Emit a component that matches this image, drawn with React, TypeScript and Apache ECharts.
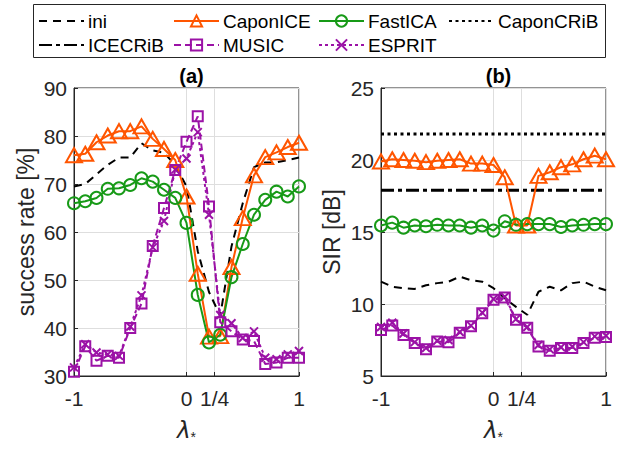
import React, { useEffect, useRef } from "react";
import * as echarts from "echarts";

// ---- data ----
const xValues = [-1, -0.9, -0.8, -0.7, -0.6, -0.5, -0.4, -0.3, -0.2, -0.1, 0, 0.1, 0.2, 0.3, 0.4, 0.5, 0.6, 0.7, 0.8, 0.9, 1];
const xTickValues = [-1, 0, 0.25, 1];
const xTickLabels: Record<string, string> = { "-1": "-1", "0": "0", "0.25": "1/4", "1": "1" };

// (a) success rate [%]
const iniA = [69.5, 70, 72, 74, 75.5, 75.5, 78.5, 77, 76.5, 74, 69.5, 56, 47.5, 42.5, 57, 66, 73.5, 74.5, 74.5, 75, 75.5];
const caponIceA = [76, 76.3, 78.7, 80.1, 81, 81, 82, 79.4, 77.3, 75, 67.4, 51.3, 38.2, 38.3, 52.7, 62.9, 71.8, 75.6, 76.6, 77.7, 78.6];
const fastIcaA = [66, 66.4, 67.1, 69, 69.1, 69.8, 71.2, 70.5, 68.8, 67.1, 61.9, 46.9, 37, 38.6, 50.6, 57.5, 63.6, 66.7, 68.4, 67.4, 69.5];
const musicA = [30.9, 36.2, 33.2, 34.2, 33.8, 40, 45.1, 57.1, 65, 72.9, 78.8, 84.1, 65.3, 41.2, 39.3, 37.6, 37.3, 32.5, 32.8, 33.8, 33.8];
const espritA = [31.8, 36.6, 34.9, 34.5, 34.2, 40.3, 46.8, 56.8, 62.3, 73, 75.3, 80.8, 63.6, 42.7, 41, 37.9, 39.3, 33.8, 33.5, 34.5, 35.2];

// (b) SIR [dB]
const iniB = [11.55, 11.2, 11.1, 11.05, 11.3, 11.45, 11.55, 11.9, 11.65, 11.55, 11.1, 10.4, 9.8, 9.25, 10.85, 11.2, 10.95, 11.45, 11.55, 11.2, 10.95];
const caponIceB = [19.9, 20.05, 20, 19.95, 19.85, 19.95, 20, 20.05, 19.75, 19.75, 19.65, 18.8, 15.45, 15.45, 18.9, 19.15, 19.5, 19.7, 20.05, 20.3, 20.05];
const fastIcaB = [15.45, 15.65, 15.3, 15.45, 15.4, 15.5, 15.45, 15.45, 15.3, 15.45, 15.1, 15.75, 15.5, 15.55, 15.55, 15.55, 15.35, 15.45, 15.5, 15.55, 15.55];
const musicB = [8.2, 8.5, 7.85, 7.3, 6.85, 7.4, 7.35, 8, 8.45, 9.35, 10.3, 10.45, 8.9, 8.35, 7.05, 6.75, 6.95, 6.95, 7.3, 7.65, 7.7];
const espritB = [8.4, 8.7, 7.95, 7.35, 6.95, 7.45, 7.5, 8.05, 8.5, 9.4, 10.35, 10.5, 8.95, 8.4, 7.15, 6.85, 7.0, 7.05, 7.35, 7.75, 7.8];
const crbX = [-1, 1];
const caponCribB = [21.8, 21.8];
const iceCribB = [17.9, 17.9];

const ORANGE = "#ff5500";
const GREEN = "#179a17";
const PURPLE = "#9b12a6";
const AXIS = "#262626";
const FONT = "Liberation Sans";

function pairs(xs: number[], ys: number[]) {
  return xs.map((x, i) => [x, ys[i]]);
}

function lineSeries(name: string, idx: number, xs: number[], ys: number[], color: string, lineType: any, width: number, symbol: string, symbolSize: any, z = 2) {
  const hasSymbol = symbol !== "none";
  return {
    type: "line",
    name,
    xAxisIndex: idx,
    yAxisIndex: idx,
    data: pairs(xs, ys),
    symbol,
    symbolSize,
    showSymbol: hasSymbol,
    z,
    lineStyle: { color, width, type: lineType },
    itemStyle: hasSymbol
      ? { color: "rgba(0,0,0,0)", borderColor: color, borderWidth: 2 }
      : { color: "rgba(0,0,0,0)", borderColor: "rgba(0,0,0,0)", borderWidth: 0, opacity: 0 },
    emphasis: { disabled: true },
    silent: true,
  };
}

const X_MARK = "path://M0,0L10,10M10,0L0,10";

export default function App() {
  const ref = useRef<HTMLDivElement>(null);
  useEffect(() => {
    document.body.style.margin = "0";
    if (!ref.current) return;
    const chart = echarts.init(ref.current, null, { renderer: "svg" });

    const grids = [
      { left: 74, top: 88, width: 225, height: 292 },
      { left: 381, top: 88, width: 225, height: 292 },
    ].map((g) => ({ ...g, show: true, borderColor: AXIS, borderWidth: 1, backgroundColor: "transparent" }));

    const xAxis = [0, 1].map((i) => ({
      type: "value",
      gridIndex: i,
      min: -1,
      max: 1,
      name: "{a|λ}{b|*}",
      nameLocation: "middle",
      nameGap: 40,
      nameTextStyle: {
        rich: {
          a: { fontFamily: "DejaVu Sans", fontStyle: "italic", fontSize: 23, color: AXIS, lineHeight: 28 },
          b: { fontFamily: FONT, fontSize: 14, color: AXIS, verticalAlign: "bottom", lineHeight: 12 },
        },
      },
      axisLine: { show: true, onZero: false, lineStyle: { color: AXIS, width: 1 } },
      axisTick: { show: true, inside: true, length: 4, customValues: xTickValues, lineStyle: { color: AXIS } },
      axisLabel: {
        customValues: xTickValues,
        fontSize: 21,
        fontFamily: FONT,
        color: AXIS,
        margin: 12,
        formatter: (v: number) => xTickLabels[String(v)] ?? String(v),
      },
      splitLine: { show: true, lineStyle: { color: "#dedede", width: 1 } },
    }));

    const yDefs = [
      { min: 30, max: 90, interval: 10, name: "success rate [%]", gap: 37 },
      { min: 5, max: 25, interval: 5, name: "SIR [dB]", gap: 38 },
    ];
    const yAxis = yDefs.map((d, i) => ({
      type: "value",
      gridIndex: i,
      min: d.min,
      max: d.max,
      interval: d.interval,
      name: d.name,
      nameLocation: "middle",
      nameGap: d.gap,
      nameTextStyle: { fontSize: 23, fontFamily: FONT, color: AXIS },
      axisLine: { show: true, onZero: false, lineStyle: { color: AXIS, width: 1 } },
      axisTick: { show: true, inside: true, length: 4, lineStyle: { color: AXIS } },
      axisLabel: { fontSize: 21, fontFamily: FONT, color: AXIS, margin: 7 },
      splitLine: { show: true, lineStyle: { color: "#dedede", width: 1 } },
    }));

    const series: any[] = [
      // panel (a)
      lineSeries("ini", 0, xValues, iniA, "#000", [8, 6], 2, "none", 0),
      lineSeries("CaponICE", 0, xValues, caponIceA, ORANGE, "solid", 2, "triangle", [16, 14]),
      lineSeries("FastICA", 0, xValues, fastIcaA, GREEN, "solid", 2, "circle", 12),
      lineSeries("MUSIC", 0, xValues, musicA, PURPLE, [7, 4], 2, "rect", 10),
      lineSeries("ESPRIT", 0, xValues, espritA, PURPLE, [3, 3], 2, X_MARK, 8),
      // panel (b)
      lineSeries("ini", 1, xValues, iniB, "#000", [8, 6], 2, "none", 0),
      lineSeries("CaponCRiB", 1, crbX, caponCribB, "#000", [3, 3.5], 3, "none", 0),
      lineSeries("ICECRiB", 1, crbX, iceCribB, "#000", [13, 4, 4, 4], 3, "none", 0),
      lineSeries("CaponICE", 1, xValues, caponIceB, ORANGE, "solid", 2, "triangle", [16, 14]),
      lineSeries("FastICA", 1, xValues, fastIcaB, GREEN, "solid", 2, "circle", 12),
      lineSeries("MUSIC", 1, xValues, musicB, PURPLE, [7, 4], 2, "rect", 10),
      lineSeries("ESPRIT", 1, xValues, espritB, PURPLE, [3, 3], 2, X_MARK, 8),
    ];

    const legendItems = [
      { name: "ini", left: 38, top: 11 },
      { name: "CaponICE", left: 173, top: 11 },
      { name: "FastICA", left: 318, top: 11 },
      { name: "CaponCRiB", left: 448, top: 11 },
      { name: "ICECRiB", left: 38, top: 35 },
      { name: "MUSIC", left: 173, top: 35 },
      { name: "ESPRIT", left: 318, top: 35 },
    ];
    const legend = legendItems.map((it) => ({
      data: [it.name],
      left: it.left,
      top: it.top,
      padding: 0,
      itemWidth: 45,
      itemHeight: 14,
      itemGap: 0,
      selectedMode: false,
      textStyle: { fontSize: 19, fontFamily: FONT, color: "#000", lineHeight: 20, padding: [0, 0, 0, -1] },
    }));

    chart.setOption({
      animation: false,
      backgroundColor: "#fff",
      title: [
        { text: "(a)", left: 186.5, top: 61, textAlign: "center", textStyle: { fontSize: 20, fontWeight: "bold", fontFamily: FONT, color: "#000" } },
        { text: "(b)", left: 493.5, top: 61, textAlign: "center", textStyle: { fontSize: 20, fontWeight: "bold", fontFamily: FONT, color: "#000" } },
      ],
      legend,
      graphic: [
        {
          type: "rect",
          shape: { x: 33.5, y: 4.5, width: 572, height: 53 },
          style: { fill: "#fff", stroke: "#262626", lineWidth: 1 },
          z: -1,
          silent: true,
        },
      ],
      grid: grids,
      xAxis,
      yAxis,
      series,
    });
    return () => chart.dispose();
  }, []);
  return <div ref={ref} style={{ width: 621, height: 449 }} />;
}
